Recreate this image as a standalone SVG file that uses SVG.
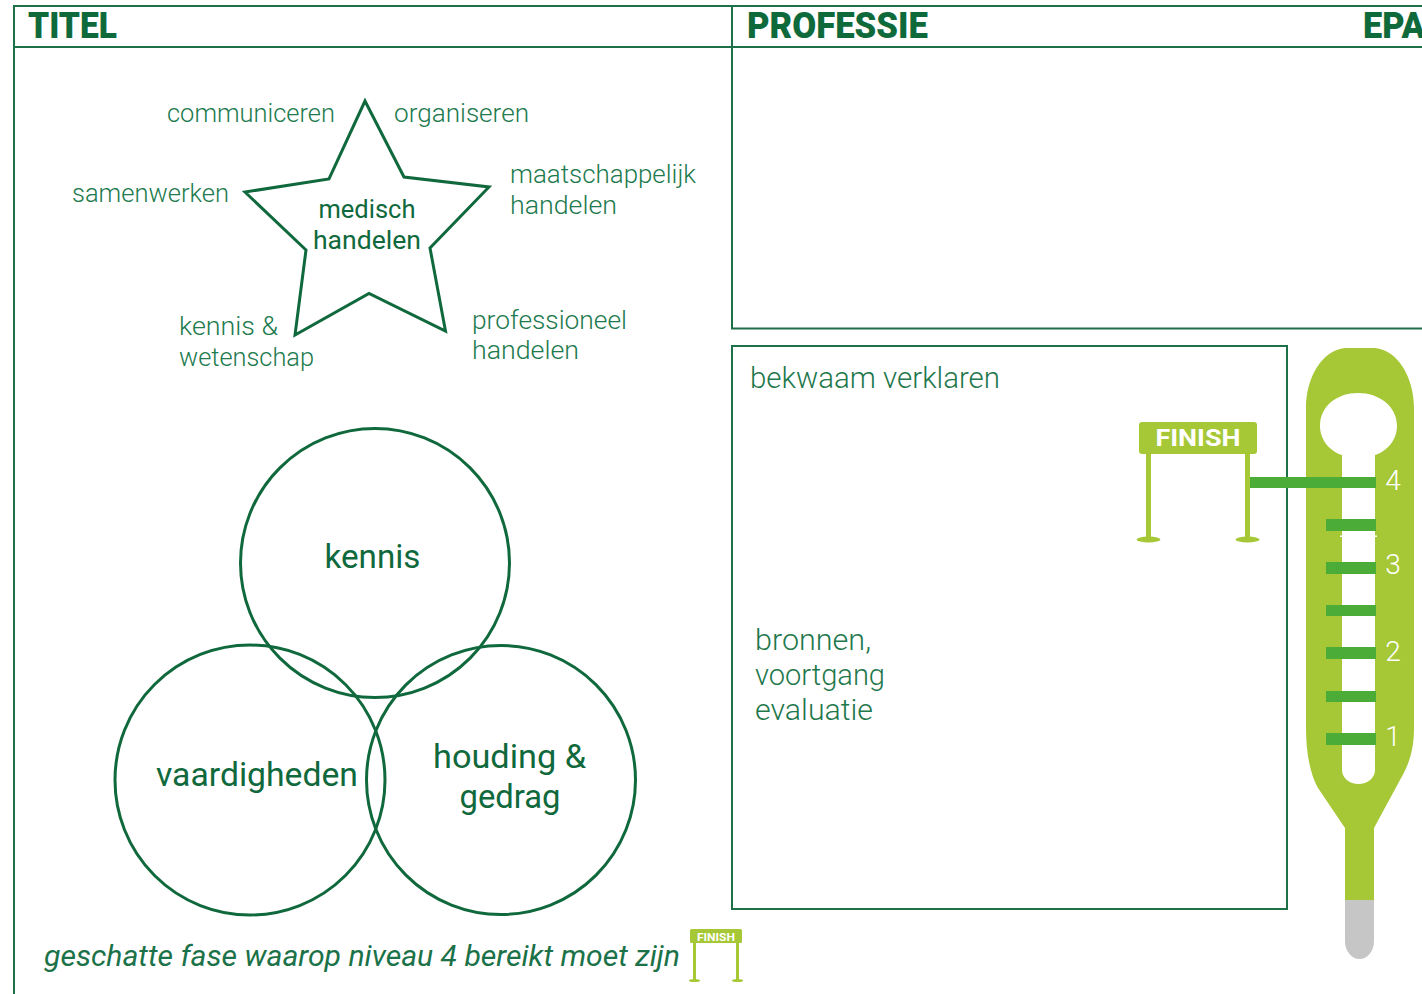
<svg xmlns="http://www.w3.org/2000/svg" width="1422" height="994" viewBox="0 0 1422 994">
<style>
text{font-family:Roboto,"Open Sans","Liberation Sans",sans-serif}
.frame{fill:none;stroke:#1d7048;stroke-width:2}
.shape{fill:none;stroke:#10693c;stroke-width:3}
.h{font-size:37px;font-weight:900;fill:#0f6a3b}
.s{font-size:26px;font-weight:300;fill:#217a4e}
.m{font-size:30px;font-weight:300;fill:#1f784c}
.c{font-size:25.500px;font-weight:400;fill:#10693c;text-anchor:middle}
.v{font-size:33px;font-weight:400;fill:#10693c;text-anchor:middle}
.lime{fill:#a6c837}
.bar{fill:#4bad38}
.n{font-size:28px;font-weight:300;fill:#fff;text-anchor:middle}
</style>
<rect width="1422" height="994" fill="#fff"/>
<g id="frame">
<path class="frame" d="M1422 6H14V994M14 47H1422M732 6V328.500H1422"/>
<rect class="frame" x="732" y="346" width="555" height="563"/>
</g>
<g id="titles">
<text class="h" x="28" y="38" textLength="89" lengthAdjust="spacingAndGlyphs">TITEL</text>
<text class="h" x="747" y="38" textLength="181" lengthAdjust="spacingAndGlyphs">PROFESSIE</text>
<text class="h" x="1363" y="38" textLength="62" lengthAdjust="spacingAndGlyphs">EPA</text>
</g>
<g id="star">
<polygon class="shape" points="365,101 404,177 489,187 430,248 445.500,331 369,293.500 295,335 306,250 245,192 329,179"/>
<text class="c" x="367" y="218" textLength="97" lengthAdjust="spacingAndGlyphs">medisch</text>
<text class="c" x="367" y="249" textLength="108" lengthAdjust="spacingAndGlyphs">handelen</text>
</g>
<g id="star-labels">
<text class="s" x="167" y="122" textLength="168" lengthAdjust="spacingAndGlyphs">communiceren</text>
<text class="s" x="394" y="122" textLength="135" lengthAdjust="spacingAndGlyphs">organiseren</text>
<text class="s" x="72" y="202" textLength="157" lengthAdjust="spacingAndGlyphs">samenwerken</text>
<text class="s" x="510" y="183" textLength="186" lengthAdjust="spacingAndGlyphs">maatschappelijk</text>
<text class="s" x="510" y="214" textLength="107" lengthAdjust="spacingAndGlyphs">handelen</text>
<text class="s" x="179" y="335" textLength="99" lengthAdjust="spacingAndGlyphs">kennis &amp;</text>
<text class="s" x="179" y="366" textLength="135" lengthAdjust="spacingAndGlyphs">wetenschap</text>
<text class="s" x="472" y="329" textLength="155" lengthAdjust="spacingAndGlyphs">professioneel</text>
<text class="s" x="472" y="359" textLength="107" lengthAdjust="spacingAndGlyphs">handelen</text>
</g>
<g id="venn-kennis">
<circle class="shape" cx="375" cy="563" r="134.500"/>
<text class="v" x="372.500" y="568" textLength="96" lengthAdjust="spacingAndGlyphs">kennis</text>
</g>
<g id="venn-vaardigheden">
<circle class="shape" cx="250" cy="780" r="135"/>
<text class="v" x="257" y="786" textLength="202" lengthAdjust="spacingAndGlyphs">vaardigheden</text>
</g>
<g id="venn-houding">
<circle class="shape" cx="501" cy="780" r="134.500"/>
<text class="v" x="509.500" y="768" textLength="153" lengthAdjust="spacingAndGlyphs">houding &amp;</text>
<text class="v" x="510" y="808" textLength="101" lengthAdjust="spacingAndGlyphs">gedrag</text>
</g>
<g id="labels-right">
<text class="m" x="750" y="388" textLength="250" lengthAdjust="spacingAndGlyphs">bekwaam verklaren</text>
<text class="m" x="755" y="650" textLength="116" lengthAdjust="spacingAndGlyphs">bronnen,</text>
<text class="m" x="755" y="685" textLength="130" lengthAdjust="spacingAndGlyphs">voortgang</text>
<text class="m" x="755" y="720" textLength="118" lengthAdjust="spacingAndGlyphs">evaluatie</text>
</g>
<g id="footnote">
<text x="44" y="966" font-size="29" font-style="italic" font-weight="400" fill="#1b7248" textLength="636" lengthAdjust="spacingAndGlyphs">geschatte fase waarop niveau 4 bereikt moet zijn</text>
</g>
<g id="finish-small">
<rect class="lime" x="690" y="929" width="52" height="14" rx="1.500"/>
<rect class="lime" x="693" y="943" width="3" height="37"/>
<rect class="lime" x="736" y="943" width="3" height="37"/>
<ellipse class="lime" cx="694.500" cy="980.500" rx="5.500" ry="1.500"/>
<ellipse class="lime" cx="737.500" cy="980.500" rx="5.500" ry="1.500"/>
<text x="716" y="941" font-size="10.500" font-weight="700" fill="#fff" text-anchor="middle" textLength="38" lengthAdjust="spacingAndGlyphs">FINISH</text>
</g>
<g id="thermometer">
<path class="lime" d="M1345 348H1375C1398 350 1414 378 1414 408V728C1414 752 1408 766 1400 780L1374 828V900H1345V828L1318 788C1310 774 1306 752 1306 728V408C1306 378 1322 350 1345 348Z"/>
<path d="M1345 900H1374V941A14.500 18 0 0 1 1345 941Z" fill="#c6c6c6"/>
<path fill="#fff" d="M1342 455C1329 451 1320 439 1320 426C1320 406 1337 393 1358 393C1379 393 1397 406 1397 426C1397 439 1388 451 1375 455V770A16.500 14 0 0 1 1342 770Z"/>
<rect x="1340" y="535.500" width="37" height="1.500" fill="#fff"/>
<rect class="bar" x="1326" y="519" width="50" height="12"/>
<rect class="bar" x="1326" y="562" width="50" height="12"/>
<rect class="bar" x="1326" y="605" width="50" height="11"/>
<rect class="bar" x="1326" y="647" width="50" height="12"/>
<rect class="bar" x="1326" y="691" width="50" height="11"/>
<rect class="bar" x="1326" y="733" width="50" height="12"/>
<text class="n" x="1393" y="490">4</text>
<text class="n" x="1393" y="574">3</text>
<text class="n" x="1393" y="661">2</text>
<text class="n" x="1393" y="746">1</text>
</g>
<g id="finish-large">
<rect class="lime" x="1139" y="422" width="118" height="32" rx="3"/>
<rect class="lime" x="1146" y="454" width="5" height="85"/>
<rect class="lime" x="1245" y="454" width="5" height="85"/>
<ellipse class="lime" cx="1148.500" cy="539.500" rx="12" ry="3"/>
<ellipse class="lime" cx="1247.500" cy="539.500" rx="12" ry="3"/>
<text x="1198" y="446" font-size="24" font-weight="700" fill="#fff" text-anchor="middle" textLength="85" lengthAdjust="spacingAndGlyphs">FINISH</text>
</g>
<g id="connectors">
<rect class="bar" x="1250" y="477" width="126" height="11"/>
</g>
</svg>
